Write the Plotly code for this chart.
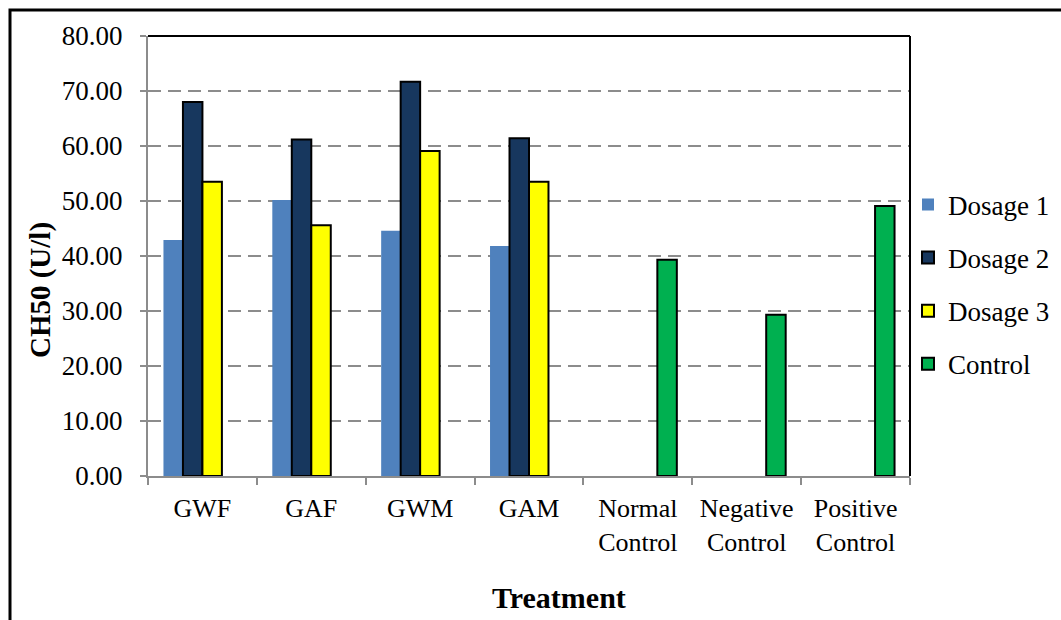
import plotly.graph_objects as go

categories = ["GWF", "GAF", "GWM", "GAM", "Normal<br>Control", "Negative<br>Control", "Positive<br>Control"]
dosage1 = [42.9, 50.2, 44.6, 41.8, None, None, None]
dosage2 = [68.0, 61.2, 71.7, 61.4, None, None, None]
dosage3 = [53.5, 45.6, 59.1, 53.5, None, None, None]
control = [None, None, None, None, 39.3, 29.3, 49.1]
y_ticks = [0, 10, 20, 30, 40, 50, 60, 70, 80]

FONT = "Liberation Serif, Times New Roman, serif"
fig = go.Figure()
fig.add_trace(go.Bar(name="Dosage 1", x=categories, y=dosage1, marker=dict(color="#4F81BD", line=dict(width=0)), legendgroup="a"))
fig.add_trace(go.Bar(name="Dosage 2", x=categories, y=dosage2, marker=dict(color="#17375E", line=dict(color="black", width=2)), legendgroup="b"))
fig.add_trace(go.Bar(name="Dosage 3", x=categories, y=dosage3, marker=dict(color="#FFFF00", line=dict(color="black", width=2)), legendgroup="c"))
fig.add_trace(go.Bar(name="Control", x=categories, y=control, marker=dict(color="#00B050", line=dict(color="black", width=2)), legendgroup="d"))

fig.update_layout(
    width=1061, height=620,
    margin=dict(l=148, r=151, t=36, b=144, autoexpand=False),
    paper_bgcolor="white", plot_bgcolor="white",
    barmode="group", bargap=0.284, bargroupgap=0,
    font=dict(family=FONT, size=26, color="black"),
    showlegend=True,
    legend=dict(xref="container", yref="container", x=0.8558, y=0.709, xanchor="left", yanchor="top",
                traceorder="grouped", tracegroupgap=15, font=dict(family=FONT, size=27),
                bgcolor="rgba(0,0,0,0)"),
    xaxis=dict(showline=True, linecolor="#8C8C8C", linewidth=2, ticks="outside", tickson="boundaries",
               ticklen=7, tickcolor="#8C8C8C", tickwidth=2, showgrid=False, ticklabelstandoff=8,
               tickfont=dict(family=FONT, size=26)),
    yaxis=dict(range=[0, 80], tickvals=y_ticks, ticktext=[f"{v:.2f}" for v in y_ticks],
               showline=True, linecolor="#8C8C8C", linewidth=2, ticks="outside", ticklen=6,
               tickcolor="#8C8C8C", tickwidth=2, ticklabelstandoff=12,
               showgrid=True, gridcolor="#8C8C8C", gridwidth=2, griddash="13px,7px",
               zeroline=False, tickfont=dict(family=FONT, size=27)),
    shapes=[
        dict(type="line", xref="paper", yref="paper", x0=0, x1=1, y0=1, y1=1, line=dict(color="black", width=2)),
        dict(type="line", xref="paper", yref="paper", x0=1, x1=1, y0=0, y1=1, line=dict(color="black", width=2)),
        dict(type="rect", xref="paper", yref="paper", x0=-0.1811, x1=1.3, y0=-0.4, y1=1.059,
             line=dict(color="black", width=3), fillcolor="rgba(0,0,0,0)"),
    ],
    annotations=[
        dict(text="<b>CH50 (U/l)</b>", xref="paper", yref="paper", x=-0.1417, y=0.4227,
             xanchor="center", yanchor="middle",
             textangle=-90, showarrow=False, font=dict(family=FONT, size=29)),
        dict(text="<b>Treatment</b>", xref="paper", yref="paper", x=0.539, y=-0.277,
             xanchor="center", yanchor="middle",
             showarrow=False, font=dict(family=FONT, size=30)),
    ],
)
fig.write_html("out.html", config={"displayModeBar": False},
               post_script="document.body.style.margin='0';")
